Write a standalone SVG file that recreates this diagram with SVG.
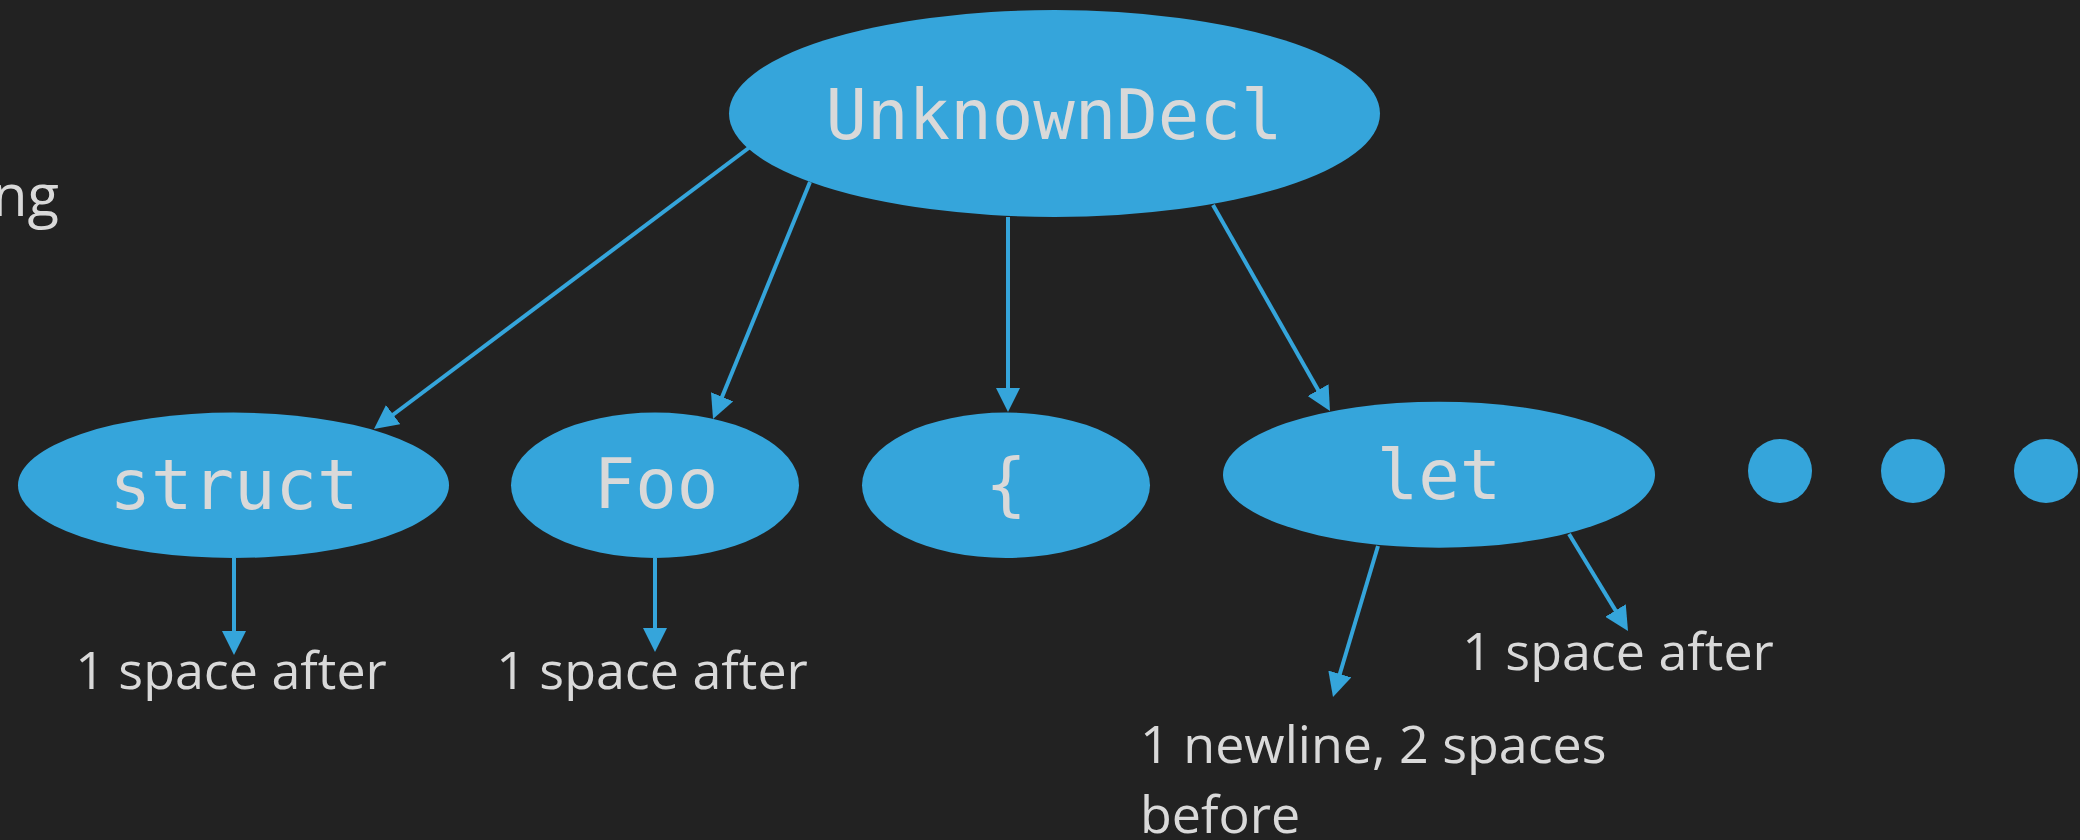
<svg xmlns="http://www.w3.org/2000/svg" width="2080" height="840" viewBox="0 0 2080 840">
  <style>
    .node { fill: #35a5db; }
    .code { font-family: "DejaVu Sans Mono", "Liberation Mono", monospace; font-size: 69px; fill: #d9d9d9; text-anchor: middle; }
    .label { font-family: "Open Sans", "Noto Sans", sans-serif; font-size: 52px; fill: #d9d9d9; }
    .edge { stroke: #35a5db; stroke-width: 4; fill: none; marker-end: url(#arrow); }
  </style>
  <defs>
    <marker id="arrow" markerUnits="userSpaceOnUse" markerWidth="24" markerHeight="24" refX="4" refY="12" orient="auto" viewBox="0 0 24 24">
      <path d="M0,0 L24,12 L0,24 Z" fill="#35a5db"/>
    </marker>
  </defs>
  <rect width="2080" height="840" fill="#222222"/>

  <!-- heading fragment at the left edge -->
  <text class="label" x="59" y="216" text-anchor="end" style="font-size:58px">ng</text>

  <!-- connectors -->
  <g id="connectors">
    <line class="edge" x1="750" y1="147" x2="390" y2="417"/>
    <line class="edge" x1="810" y1="182" x2="720.6" y2="400.5"/>
    <line class="edge" x1="1008" y1="217" x2="1008" y2="392"/>
    <line class="edge" x1="1213" y1="205" x2="1320.1" y2="393.6"/>
    <line class="edge" x1="234" y1="558" x2="234" y2="635"/>
    <line class="edge" x1="655" y1="558" x2="655" y2="632"/>
    <line class="edge" x1="1378" y1="546" x2="1338.7" y2="677.8"/>
    <line class="edge" x1="1569" y1="534" x2="1617.6" y2="613.9"/>
  </g>

  <g id="node-unknowndecl">
    <ellipse class="node" cx="1054.5" cy="113.5" rx="325.5" ry="103.5"/>
    <text class="code" x="1054" y="139">UnknownDecl</text>
  </g>
  <g id="node-struct">
    <ellipse class="node" cx="233.5" cy="485.3" rx="215.5" ry="72.7"/>
    <text class="code" x="234" y="509">struct</text>
  </g>
  <g id="node-foo">
    <ellipse class="node" cx="655" cy="485.3" rx="144" ry="72.7"/>
    <text class="code" x="656" y="508">Foo</text>
  </g>
  <g id="node-brace">
    <ellipse class="node" cx="1006" cy="485.3" rx="144" ry="72.7"/>
    <text class="code" x="1006" y="508">{</text>
  </g>
  <g id="node-let">
    <ellipse class="node" cx="1439" cy="474.7" rx="216" ry="73"/>
    <text class="code" x="1439" y="499">let</text>
  </g>
  <g id="ellipsis">
    <circle class="node" cx="1780" cy="471" r="32"/>
    <circle class="node" cx="1913" cy="471" r="32"/>
    <circle class="node" cx="2046" cy="471" r="32"/>
  </g>

  <g id="trivia-struct">
    <text class="label" x="231" y="689" text-anchor="middle">1 space after</text>
  </g>
  <g id="trivia-foo">
    <text class="label" x="652" y="689" text-anchor="middle">1 space after</text>
  </g>
  <g id="trivia-let-leading">
    <text class="label" x="1140" y="763">1 newline, 2 spaces</text>
    <text class="label" x="1140" y="833">before</text>
  </g>
  <g id="trivia-let-trailing">
    <text class="label" x="1618" y="670" text-anchor="middle">1 space after</text>
  </g>
</svg>
